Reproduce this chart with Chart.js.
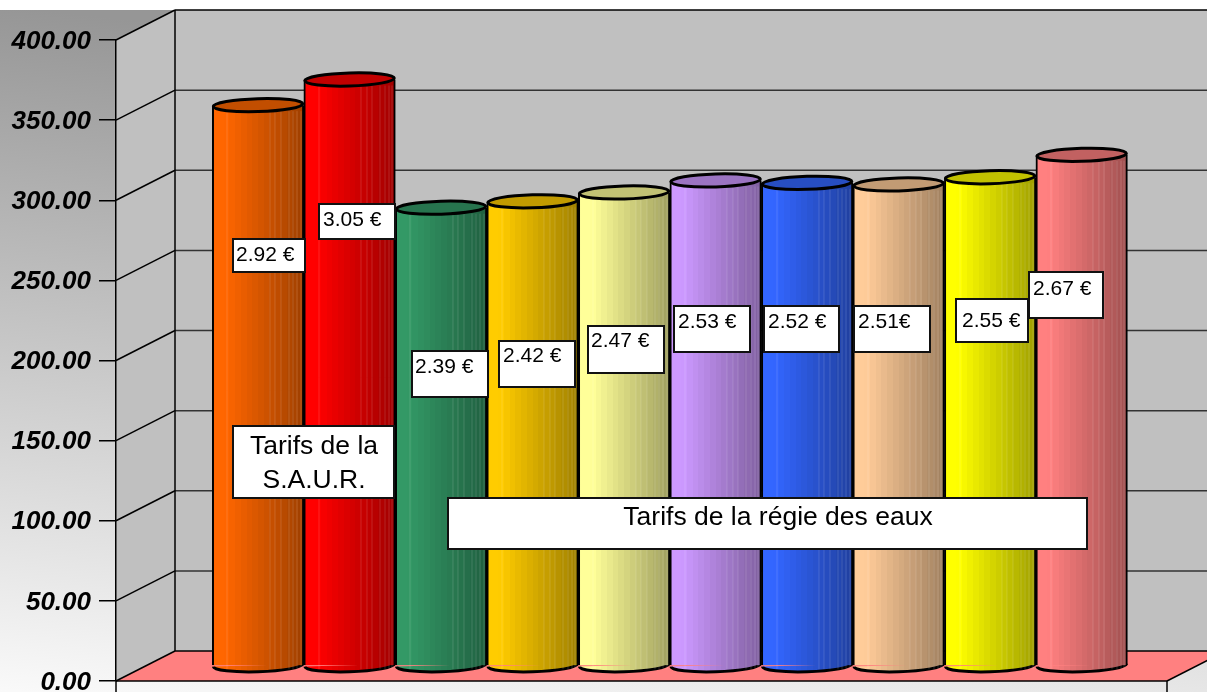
<!DOCTYPE html>
<html>
<head>
<meta charset="utf-8">
<style>
    body { margin: 0; background: #fff; }
    canvas { display: block; }
</style>
<script src="https://cdn.jsdelivr.net/npm/chart.js@4"></script>
</head>
<body>
<canvas id="tarifs-chart" width="1207" height="692"></canvas>
<script>
var tariffLabels = ['2.92 €', '3.05 €', '2.39 €', '2.42 €', '2.47 €', '2.53 €', '2.52 €', '2.51€', '2.55 €', '2.67 €'];
var barValues = [350, 366, 286, 290, 295.5, 303, 301.5, 300.5, 305, 319];
var barColors = ['#ff6600', '#ff0000', '#339966', '#ffcc00', '#ffff99', '#cc99ff', '#3366ff', '#ffcc99', '#ffff00', '#ff8080'];
var yTicks = [0, 50, 100, 150, 200, 250, 300, 350, 400];

// depth of the fake 3D box, in pixels
var depthX = 59;
var depthY = -30;
var FONT = '"Liberation Sans", Arial, sans-serif';

// hand placed boxes, same order as tariffLabels: left, top, right, bottom, text x, text baseline
var labelBoxes = [
    [233, 239, 305, 272, 236, 261],
    [319, 204, 395, 239, 323, 226],
    [412, 351, 488, 397, 415, 373],
    [499, 341, 575, 387, 503, 362],
    [588, 326, 664, 373, 591, 347],
    [674, 306, 750, 352, 678, 328],
    [764, 306, 839, 352, 768, 328],
    [854, 306, 930, 352, 858, 328],
    [956, 299, 1028, 342, 962, 327],
    [1029, 272, 1103, 318, 1033, 295]
];

function each(list, fn) {
    for (var i = 0; i < list.length; i++) {
        fn(list[i], i);
    }
}

function shade(hex, f) {
    var r = Math.round(parseInt(hex.substr(1, 2), 16) * f);
    var g = Math.round(parseInt(hex.substr(3, 2), 16) * f);
    var b = Math.round(parseInt(hex.substr(5, 2), 16) * f);
    return 'rgb(' + r + ',' + g + ',' + b + ')';
}

// stepped gradient, the original has visible bands
function barFill(chart, i) {
    var x = chart.scales.x;
    var step = x.getPixelForValue(1) - x.getPixelForValue(0);
    var left = x.getPixelForValue(i) - step / 2;
    if (!isFinite(left) || !isFinite(step)) {
        return barColors[i] || '#000';
    }
    var grad = chart.ctx.createLinearGradient(left, 0, left + step, 0);
    var bands = 16;
    for (var b = 0; b < bands; b++) {
        var t = b / (bands - 1);
        var f = t < 0.12 ? 1 : 1 - (t - 0.12) / 0.88 * 0.36;
        grad.addColorStop(b / bands, shade(barColors[i], f));
        grad.addColorStop((b + 1) / bands, shade(barColors[i], f));
    }
    return grad;
}

function line(ctx, x1, y1, x2, y2) {
    ctx.beginPath();
    ctx.moveTo(x1, y1);
    ctx.lineTo(x2, y2);
    ctx.stroke();
}

function drawBox(ctx, b) {
    ctx.fillStyle = '#fff';
    ctx.fillRect(b[0], b[1], b[2] - b[0], b[3] - b[1]);
    ctx.lineWidth = 2;
    ctx.strokeStyle = '#111';
    ctx.strokeRect(b[0], b[1], b[2] - b[0], b[3] - b[1]);
}

var box3d = {
    id: 'box3d',
    beforeDraw: function (chart) {
        var ctx = chart.ctx;
        var y = chart.scales.y;
        var a = chart.chartArea;
        var yTop = y.getPixelForValue(400);
        var yZero = y.getPixelForValue(0);
        ctx.save();

        var bg = ctx.createLinearGradient(40, 10, -35, 692);
        bg.addColorStop(0, '#969696');
        bg.addColorStop(1, '#fafafa');
        ctx.fillStyle = bg;
        ctx.fillRect(0, 10, chart.width, chart.height - 10);

        // back wall and left wall
        ctx.fillStyle = '#c0c0c0';
        ctx.fillRect(a.left + depthX, yTop + depthY, chart.width, yZero - yTop);
        ctx.beginPath();
        ctx.moveTo(a.left, yTop);
        ctx.lineTo(a.left + depthX, yTop + depthY);
        ctx.lineTo(a.left + depthX, yZero + depthY);
        ctx.lineTo(a.left, yZero);
        ctx.closePath();
        ctx.fill();

        // floor
        ctx.fillStyle = '#ff8080';
        ctx.beginPath();
        ctx.moveTo(a.left, yZero);
        ctx.lineTo(a.left + depthX, yZero + depthY);
        ctx.lineTo(a.right + depthX, yZero + depthY);
        ctx.lineTo(a.right, yZero);
        ctx.closePath();
        ctx.fill();

        ctx.lineWidth = 1.5;
        each(yTicks, function (v) {
            var py = y.getPixelForValue(v);
            ctx.strokeStyle = '#000';
            line(ctx, a.left, py, a.left + depthX, py + depthY);
            ctx.strokeStyle = v === 0 || v === 400 ? '#000' : '#333';
            line(ctx, a.left + depthX, py + depthY, chart.width, py + depthY);
        });
        ctx.strokeStyle = '#000';
        line(ctx, a.left + depthX, yTop + depthY, a.left + depthX, yZero + depthY);
        line(ctx, a.left, yZero, a.right, yZero);
        line(ctx, a.left, yZero, a.left, chart.height);
        line(ctx, a.right, yZero, a.right, chart.height);
        line(ctx, a.right, yZero, a.right + depthX, yZero + depthY);
        ctx.restore();
    },
    beforeDatasetsDraw: function (chart) {
        var ctx = chart.ctx;
        ctx.save();
        // bars stand in the middle of the floor
        ctx.translate(depthX / 2, depthY / 2);
        each(chart.getDatasetMeta(0).data, function (bar, i) {
            ctx.beginPath();
            ctx.ellipse(bar.x, bar.base, bar.width / 2 - 1, 6.5, -0.03, 0, Math.PI);
            ctx.fillStyle = barFill(chart, i);
            ctx.fill();
            ctx.lineWidth = 3;
            ctx.strokeStyle = '#000';
            ctx.stroke();
        });
    },
    afterDatasetsDraw: function (chart) {
        var ctx = chart.ctx;
        var stripes = [0.16, 0.62, 0.68, 0.74, 0.83, 0.88, 0.92, 0.96];
        each(chart.getDatasetMeta(0).data, function (bar, i) {
            var left = bar.x - bar.width / 2;
            ctx.lineWidth = 1;
            ctx.strokeStyle = 'rgba(255,255,255,0.14)';
            each(stripes, function (s) {
                var sx = Math.round(left + bar.width * s) + 0.5;
                line(ctx, sx, bar.y + 6, sx, bar.base + 4);
            });
            ctx.beginPath();
            ctx.ellipse(bar.x, bar.y, bar.width / 2 - 1, 6.5, -0.03, 0, Math.PI * 2);
            ctx.fillStyle = shade(barColors[i], 0.76);
            ctx.fill();
            ctx.lineWidth = 3;
            ctx.strokeStyle = '#000';
            ctx.stroke();
        });
        ctx.restore();
    },
    afterDraw: function (chart) {
        var ctx = chart.ctx;
        ctx.save();
        ctx.textAlign = 'left';
        ctx.textBaseline = 'alphabetic';
        each(tariffLabels, function (text, i) {
            drawBox(ctx, labelBoxes[i]);
            ctx.fillStyle = '#000';
            ctx.font = '21px ' + FONT;
            ctx.fillText(text, labelBoxes[i][4], labelBoxes[i][5]);
        });
        drawBox(ctx, [233, 426, 394, 498]);
        drawBox(ctx, [448, 498, 1087, 549]);
        ctx.fillStyle = '#000';
        ctx.font = '26.5px ' + FONT;
        ctx.textAlign = 'center';
        ctx.fillText('Tarifs de la', 314, 454);
        ctx.fillText('S.A.U.R.', 314, 488);
        ctx.fillText('Tarifs de la régie des eaux', 778, 525);
        ctx.restore();
    }
};

var points = [];
each(barValues, function (v, i) {
    points.push({ x: i, y: v });
});

var tarifsChart = new Chart(document.getElementById('tarifs-chart'), {
    type: 'bar',
    plugins: [box3d],
    data: {
        datasets: [
            {
                data: points,
                backgroundColor: function (c) {
                    return c.dataIndex === undefined ? '#000' : barFill(c.chart, c.dataIndex);
                },
                borderColor: '#000',
                borderWidth: { top: 0, right: 2, bottom: 0, left: 2 },
                borderSkipped: false,
                barPercentage: 1,
                categoryPercentage: 1,
                clip: false
            }
        ]
    },
    options: {
        responsive: false,
        animation: false,
        layout: { padding: { top: 40, right: 40, bottom: 11, left: 0 } },
        plugins: {
            legend: { display: false },
            tooltip: { enabled: false }
        },
        scales: {
            x: { type: 'linear', min: -1.23, max: 10.255, offset: false, display: false },
            y: {
                min: 0,
                max: 400,
                afterFit: function (scale) {
                    scale.width = 116;
                    // the 0.00 label hangs below the floor, do not let it push the area up
                    scale.paddingTop = 0;
                    scale.paddingBottom = 0;
                },
                afterBuildTicks: function (scale) {
                    scale.ticks = yTicks.map(function (v) { return { value: v }; });
                },
                border: { display: true, color: '#000', width: 1.5 },
                grid: { drawOnChartArea: false, color: '#000', lineWidth: 1.5, tickLength: 17 },
                ticks: {
                    color: '#000',
                    padding: 8,
                    labelOffset: 1.5,
                    font: { family: FONT, size: 26, style: 'italic', weight: 'bold' },
                    callback: function (v) { return v.toFixed(2); }
                }
            }
        }
    }
});
</script>
</body>
</html>
